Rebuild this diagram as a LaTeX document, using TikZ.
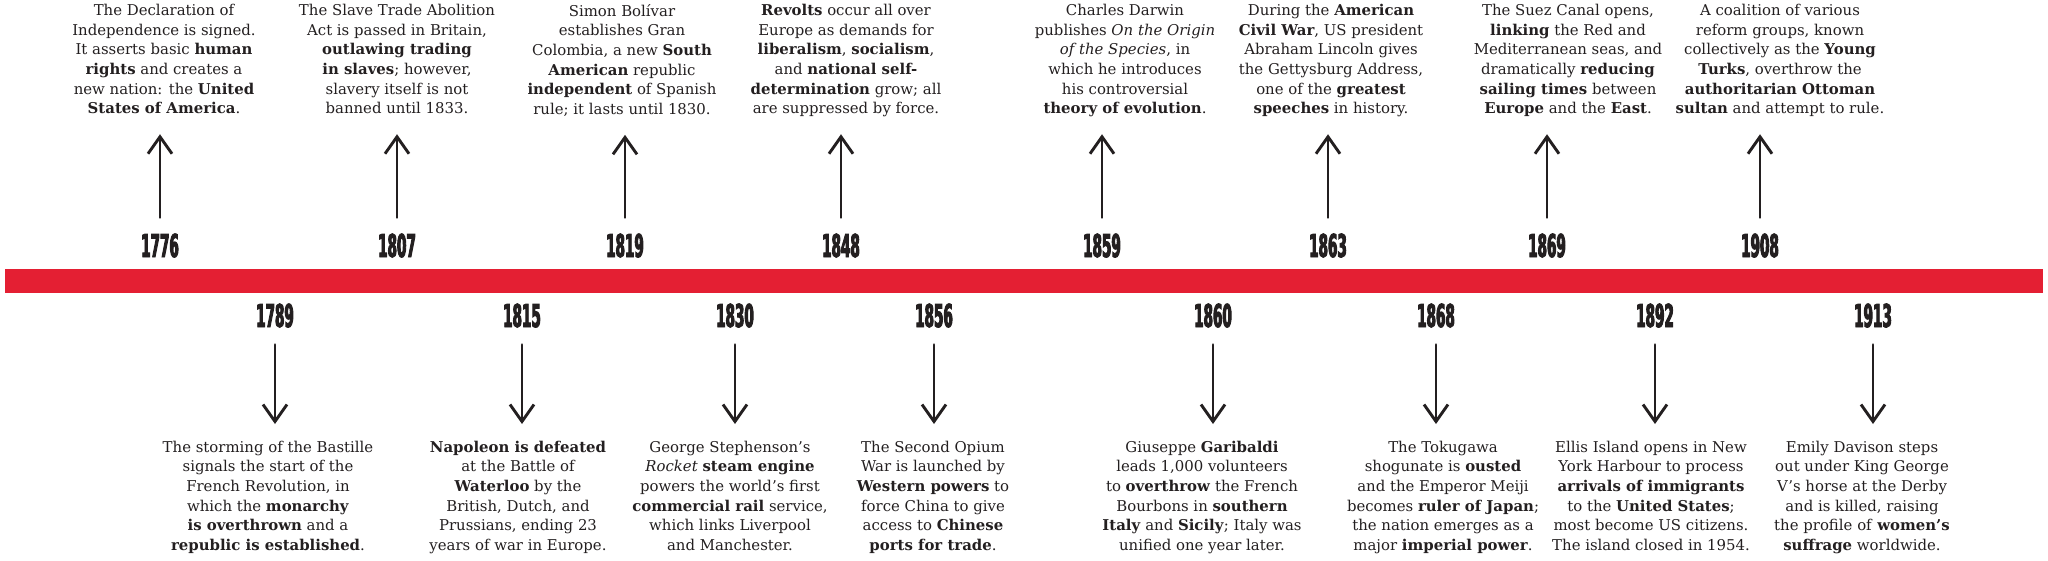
\documentclass[tikz,border=0pt]{standalone}
\usepackage{fontspec}
\setmainfont{DejaVu Serif}
\newfontfamily\yearfont[FakeStretch=0.43,FakeBold=3]{DejaVu Sans}
\usetikzlibrary{arrows.meta,positioning}
\definecolor{barred}{HTML}{E41F33}
\definecolor{ink}{HTML}{231F20}
\tikzset{
  evtext/.style={align=center, inner sep=0pt, text=ink,
    font=\fontsize{14.9}{19.6}\selectfont,
    execute at begin node=\vphantom{lg}, execute at end node=\vphantom{lg}},
  yearlab/.style={inner sep=0pt, text=ink,
    font=\yearfont\fontsize{31.5}{32}\selectfont\bfseries},
  arr/.style={-{Straight Barb[length=17pt, width=24pt]}, line width=2.9pt,
    draw=ink, line cap=round, line join=round}
}
\begin{document}
\begin{tikzpicture}[x=1pt,y=-1pt]
    \useasboundingbox (0,0) rectangle (2048,560);
    \fill[barred] (5,269) rectangle (2043,293);
    \foreach \x/\tx/\n/\txt in {
      160/164/1776/{The Declaration of\\Independence is signed.\\It asserts basic \textbf{human}\\\textbf{rights} and creates a\\new nation: the \textbf{United}\\\textbf{States of America}.},
      397/397/1807/{The Slave Trade Abolition\\Act is passed in Britain,\\\textbf{outlawing trading}\\\textbf{in slaves}; however,\\slavery itself is not\\banned until 1833.},
      625/622/1819/{Simon Bolívar\\establishes Gran\\Colombia, a new \textbf{South}\\\textbf{American} republic\\\textbf{independent} of Spanish\\rule; it lasts until 1830.},
      841/846/1848/{\textbf{Revolts} occur all over\\Europe as demands for\\\textbf{liberalism}, \textbf{socialism},\\and \textbf{national self-}\\\textbf{determination} grow; all\\are suppressed by force.},
      1102/1125/1859/{Charles Darwin\\publishes \textit{On the Origin}\\\textit{of the Species}, in\\which he introduces\\his controversial\\\textbf{theory of evolution}.},
      1328/1331/1863/{During the \textbf{American}\\\textbf{Civil War}, US president\\Abraham Lincoln gives\\the Gettysburg Address,\\one of the \textbf{greatest}\\\textbf{speeches} in history.},
      1547/1568/1869/{The Suez Canal opens,\\\textbf{linking} the Red and\\Mediterranean seas, and\\dramatically \textbf{reducing}\\\textbf{sailing times} between\\\textbf{Europe} and the \textbf{East}.},
      1760/1780/1908/{A coalition of various\\reform groups, known\\collectively as the \textbf{Young}\\\textbf{Turks}, overthrow the\\\textbf{authoritarian Ottoman}\\\textbf{sultan} and attempt to rule.}} {
      \node[yearlab, anchor=base] (y\n) at (\x,257) {\n};
      \node[evtext, anchor=north] (e\n) at (\tx,4.2) {\txt};
      \draw[arr, shorten <=16pt, shorten >=17pt] (y\n.north) -- (e\n.south -| y\n.north);
    }
    \foreach \x/\tx/\n/\txt in {
      275/268/1789/{The storming of the Bastille\\signals the start of the\\French Revolution, in\\which the \textbf{monarchy}\\\textbf{is overthrown} and a\\\textbf{republic is established}.},
      522/518/1815/{\textbf{Napoleon is defeated}\\at the Battle of\\\textbf{Waterloo} by the\\British, Dutch, and\\Prussians, ending 23\\years of war in Europe.},
      735/730/1830/{George Stephenson's\\\textit{Rocket} \textbf{steam engine}\\powers the world's first\\\textbf{commercial rail} service,\\which links Liverpool\\and Manchester.},
      934/933/1856/{The Second Opium\\War is launched by\\\textbf{Western powers} to\\force China to give\\access to \textbf{Chinese}\\\textbf{ports for trade}.},
      1213/1202/1860/{Giuseppe \textbf{Garibaldi}\\leads 1,000 volunteers\\to \textbf{overthrow} the French\\Bourbons in \textbf{southern}\\\textbf{Italy} and \textbf{Sicily}; Italy was\\unified one year later.},
      1436/1443/1868/{The Tokugawa\\shogunate is \textbf{ousted}\\and the Emperor Meiji\\becomes \textbf{ruler of Japan};\\the nation emerges as a\\major \textbf{imperial power}.},
      1655/1651/1892/{Ellis Island opens in New\\York Harbour to process\\\textbf{arrivals of immigrants}\\to the \textbf{United States};\\most become US citizens.\\The island closed in 1954.},
      1873/1862/1913/{Emily Davison steps\\out under King George\\V's horse at the Derby\\and is killed, raising\\the profile of \textbf{women's}\\\textbf{suffrage} worldwide.}} {
      \node[yearlab, anchor=base] (y\n) at (\x,327) {\n};
      \node[evtext, anchor=north] (e\n) at (\tx,440.7) {\txt};
      \draw[arr, shorten <=17pt, shorten >=16.7pt] (y\n.south) -- (e\n.north -| y\n.south);
    }
  \end{tikzpicture}
\end{document}
